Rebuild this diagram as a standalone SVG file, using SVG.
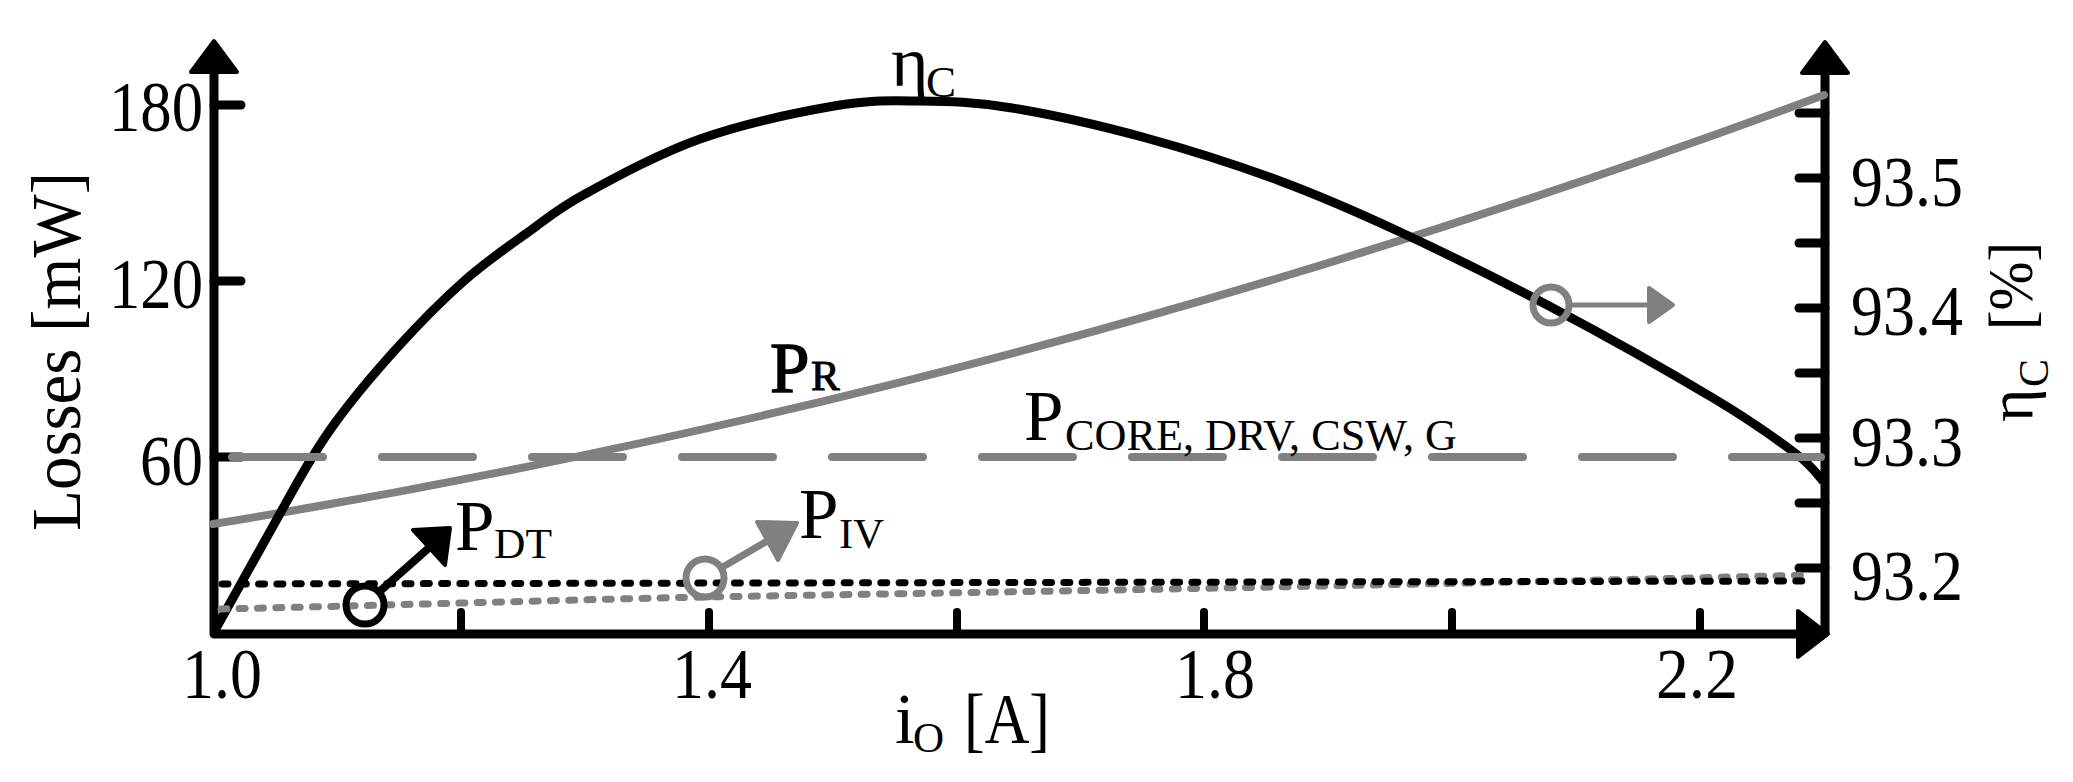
<svg xmlns="http://www.w3.org/2000/svg" width="2073" height="782" viewBox="0 0 2073 782">
<style>
text{font-family:"Liberation Serif","Times New Roman",serif;fill:#000}
.lbl{font-size:71px}
.sub{font-size:43px}
.ax{stroke:#000;stroke-width:9;fill:none;stroke-linejoin:round}
.tick{stroke:#000;stroke-width:9;stroke-linecap:round}
.xt{stroke:#000;stroke-width:8;stroke-linecap:round}
.headk{fill:#000;stroke:#000;stroke-width:4;stroke-linejoin:round}
.headg{fill:#808080;stroke:#808080;stroke-width:4;stroke-linejoin:round}
.dot{fill:none;stroke-width:7;stroke-linecap:round;stroke-dasharray:6 12.3}
</style>
<rect width="2073" height="782" fill="#fff"/>
<g id="axes">
<path class="ax" d="M214,73 V634 H1805"/>
<path class="ax" d="M1825,73 V634"/>
<polygon class="headk" points="214,41 237,72 191,72"/>
<polygon class="headk" points="1825,42 1848,73 1802,73"/>
<polygon class="headk" points="1828,634 1798,611 1798,657"/>
<g id="left-ticks">
<line class="tick" x1="214" y1="105" x2="241" y2="105"/>
<line class="tick" x1="214" y1="281" x2="241" y2="281"/>
<line class="tick" x1="214" y1="457" x2="241" y2="457"/>
</g>
<g id="right-ticks">
<line class="tick" x1="1825" y1="113" x2="1799" y2="113"/>
<line class="tick" x1="1825" y1="178" x2="1799" y2="178"/>
<line class="tick" x1="1825" y1="243" x2="1799" y2="243"/>
<line class="tick" x1="1825" y1="308" x2="1799" y2="308"/>
<line class="tick" x1="1825" y1="373" x2="1799" y2="373"/>
<line class="tick" x1="1825" y1="438" x2="1799" y2="438"/>
<line class="tick" x1="1825" y1="503" x2="1799" y2="503"/>
<line class="tick" x1="1825" y1="568" x2="1799" y2="568"/>
</g>
<g id="bottom-ticks">
<line class="xt" x1="461" y1="633" x2="461" y2="612"/>
<line class="xt" x1="709" y1="633" x2="709" y2="612"/>
<line class="xt" x1="957" y1="633" x2="957" y2="612"/>
<line class="xt" x1="1204" y1="633" x2="1204" y2="612"/>
<line class="xt" x1="1452" y1="633" x2="1452" y2="612"/>
<line class="xt" x1="1700" y1="633" x2="1700" y2="612"/>
</g>
</g>
<g id="tick-labels">
<text class="lbl" x="203" y="131" text-anchor="end" textLength="94" lengthAdjust="spacingAndGlyphs">180</text>
<text class="lbl" x="203" y="308" text-anchor="end" textLength="94" lengthAdjust="spacingAndGlyphs">120</text>
<text class="lbl" x="203" y="485" text-anchor="end" textLength="63" lengthAdjust="spacingAndGlyphs">60</text>
<text class="lbl" x="222" y="698" text-anchor="middle" textLength="80" lengthAdjust="spacingAndGlyphs">1.0</text>
<text class="lbl" x="712" y="698" text-anchor="middle" textLength="80" lengthAdjust="spacingAndGlyphs">1.4</text>
<text class="lbl" x="1215" y="698" text-anchor="middle" textLength="80" lengthAdjust="spacingAndGlyphs">1.8</text>
<text class="lbl" x="1697" y="698" text-anchor="middle" textLength="82" lengthAdjust="spacingAndGlyphs">2.2</text>
<text class="lbl" x="1851" y="206" textLength="112" lengthAdjust="spacingAndGlyphs">93.5</text>
<text class="lbl" x="1851" y="335" textLength="112" lengthAdjust="spacingAndGlyphs">93.4</text>
<text class="lbl" x="1851" y="466" textLength="112" lengthAdjust="spacingAndGlyphs">93.3</text>
<text class="lbl" x="1851" y="600" textLength="112" lengthAdjust="spacingAndGlyphs">93.2</text>
</g>
<g id="axis-titles">
<g transform="translate(80,531) rotate(-90)">
<text x="0" y="0" font-size="70" textLength="359" lengthAdjust="spacingAndGlyphs">Losses [mW]</text>
</g>
<g transform="translate(2032,422) rotate(-90)">
<text x="0" y="0" font-size="64">η</text>
<text x="35" y="16" font-size="42">C</text>
<text x="92" y="0" font-size="64" textLength="88" lengthAdjust="spacingAndGlyphs">[%]</text>
</g>
<text class="lbl" x="895" y="743">i</text>
<text class="sub" x="913" y="752">O</text>
<text class="lbl" x="964" y="743" textLength="86" lengthAdjust="spacingAndGlyphs">[A]</text>
</g>
<g id="connectors">
<path id="PR" d="M213,524 Q1018,394 1824,95" fill="none" stroke="#808080" stroke-width="8" stroke-linecap="round"/>
<path id="etaC" fill="none" stroke="#000" stroke-width="9" stroke-linejoin="round" d="M214,632 L292,492 C300,477.6 317.5,447 335,423 C352.5,399 375.5,371.7 397,348 C418.5,324.3 442.3,300.2 464,281 C485.7,261.8 506.8,247.5 527,233 C547.2,218.5 556.2,209.7 585,194 C613.8,178.3 658.5,153.7 700,139 C741.5,124.3 797.5,112.3 834,106 C870.5,99.7 889.3,100.7 919,101 C948.7,101.3 974.2,101.8 1012,108 C1049.8,114.2 1101.3,125.8 1146,138 C1190.7,150.2 1237.7,165.3 1280,181 C1322.3,196.7 1354.8,211 1400,232 C1445.2,253 1498.8,279.3 1551,307 C1603.2,334.7 1672.3,373.7 1713,398 C1753.7,422.3 1776.7,439.2 1795,453 C1813.3,466.8 1818.3,476.3 1823,481"/>
<line id="Pcore" x1="232" y1="457" x2="1821" y2="457" stroke="#808080" stroke-width="8" stroke-linecap="round" stroke-dasharray="91 59"/>
<path id="PIV" class="dot" stroke="#808080" d="M221,609 C 400,605 600,599 705,597 S 1300,588 1812,575"/>
<path id="PDT" class="dot" stroke="#000" d="M222,584 L1814,581"/>
</g>
<g id="marker-PDT">
<circle cx="365" cy="605" r="19" fill="none" stroke="#000" stroke-width="7"/>
<line x1="379" y1="592" x2="431" y2="546" stroke="#000" stroke-width="8"/>
<polygon class="headk" points="450,528 413,530 445,565"/>
<text class="lbl" x="455" y="550">P</text>
<text class="sub" x="494" y="558" textLength="58" lengthAdjust="spacingAndGlyphs">DT</text>
</g>
<g id="marker-PIV">
<circle cx="705" cy="578" r="19" fill="none" stroke="#808080" stroke-width="7"/>
<line x1="721" y1="568" x2="769" y2="540" stroke="#808080" stroke-width="7"/>
<polygon class="headg" points="797,523 757,522 778,560"/>
<text class="lbl" x="799" y="538">P</text>
<text class="sub" x="839" y="548" textLength="45" lengthAdjust="spacingAndGlyphs">IV</text>
</g>
<g id="marker-eta">
<circle cx="1551" cy="305" r="18" fill="none" stroke="#808080" stroke-width="7"/>
<line x1="1569" y1="305" x2="1650" y2="305" stroke="#808080" stroke-width="5"/>
<polygon class="headg" points="1673,305 1649,288 1649,322"/>
</g>
<g id="label-PR">
<text class="lbl" x="770" y="392" stroke="#000" stroke-width="1.5">P</text>
<text class="sub" x="811" y="390" stroke="#000" stroke-width="1">R</text>
</g>
<g id="label-etaC">
<text x="891" y="86" font-size="72">η</text>
<text x="926" y="97" font-size="45">C</text>
</g>
<g id="label-Pcore">
<text class="lbl" x="1024" y="440">P</text>
<text x="1065" y="450" font-size="45" textLength="392" lengthAdjust="spacingAndGlyphs">CORE, DRV, CSW, G</text>
</g>
</svg>
